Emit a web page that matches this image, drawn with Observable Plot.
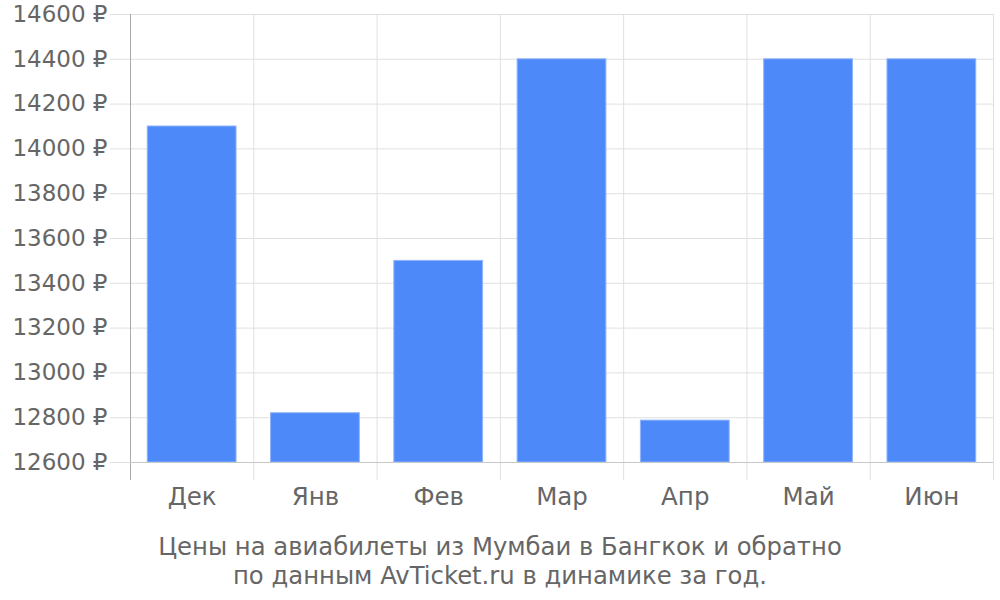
<!DOCTYPE html>
<html><head><meta charset="utf-8">
<script src="https://cdn.jsdelivr.net/npm/d3@7"></script>
<script src="https://cdn.jsdelivr.net/npm/@observablehq/plot@0.6"></script>
<style>
body{margin:0;background:#fff;font-family:"DejaVu Sans",sans-serif;}
#cap{text-align:center;color:#666;font-size:24.3px;line-height:29px;padding-top:17px;width:1000px;}
</style></head><body>
<div id="chart"></div>
<div id="cap">Цены на авиабилеты из Мумбаи в Бангкок и обратно<br>по данным AvTicket.ru в динамике за год.</div>
<script>
const months = ["Дек","Янв","Фев","Мар","Апр","Май","Июн"];
const prices = [14100,12820,13500,14400,12787,14400,14400];
const yTicks = [12600,12800,13000,13200,13400,13600,13800,14000,14200,14400,14600];
const yMin = 12600, yMax = 14600;
const data = months.map((m,i)=>({i, month:m, price:prices[i]}));
const bounds = d3.range(months.length+1);
const centers = months.map((m,i)=>i+0.5);
const plot = Plot.plot({
  width:1000, height:515, marginLeft:130, marginRight:7, marginTop:14, marginBottom:53,
  style:{fontFamily:"DejaVu Sans", fontSize:"23px", color:"#666", background:"#fff", overflow:"visible"},
  x:{domain:[0,months.length]},
  y:{domain:[yMin,yMax]},
  marks:[
    Plot.gridY({ticks:yTicks, stroke:"#e0e0e0", strokeOpacity:1}),
    Plot.gridX({ticks:bounds, stroke:"#e0e0e0", strokeOpacity:1}),
    Plot.axisY({ticks:yTicks, tickSize:20, tickPadding:3, tickFormat:d=>d+" ₽", stroke:"#e0e0e0", fill:"#666", fontSize:23, label:null}),
    Plot.axisX({ticks:bounds, tickSize:18, tickFormat:()=>"", stroke:"#e0e0e0", label:null}),
    Plot.axisX({ticks:[0], tickSize:18, tickFormat:()=>"", stroke:"#aaa", label:null}),
    Plot.axisX({ticks:centers, tickSize:0, tickPadding:25, tickFormat:d=>months[Math.floor(d)], fill:"#666", fontSize:24.5, label:null}),
    Plot.rect(data,{x1:d=>d.i+0.14, x2:d=>d.i+0.86, y1:yMin, y2:"price", fill:"#4d89f9", stroke:"#8fb4fb", strokeWidth:1}),
    Plot.ruleY([yMin],{stroke:"#c8c8c8"}),
    Plot.ruleX([0],{stroke:"#aaa"})
  ]
});
document.getElementById("chart").appendChild(plot);
</script>
</body></html>
